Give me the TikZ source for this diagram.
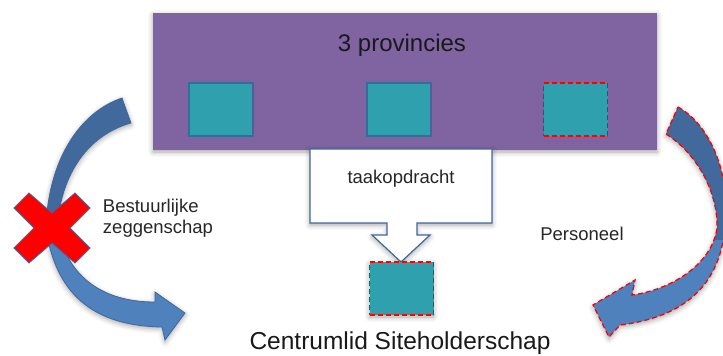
\documentclass[tikz,border=0pt]{standalone}
\usepackage{fontspec}
\setmainfont{Liberation Sans}
\usetikzlibrary{shadows.blur}
\definecolor{provpurple}{HTML}{8064A2}
\definecolor{unitteal}{HTML}{2FA0AE}
\definecolor{edgeblue}{HTML}{41679A}
\definecolor{arrowdark}{HTML}{41699C}
\definecolor{arrowlight}{HTML}{4F81BD}
\tikzset{
  unit/.style={draw=edgeblue,line width=1.3pt,fill=unitteal,minimum width=64pt,minimum height=53pt,inner sep=0pt},
  reddash/.style={draw=red,line width=1.3pt,dash pattern=on 5pt off 3pt},
  softshadow/.style={blur shadow={shadow xshift=0pt,shadow yshift=-2pt,shadow blur radius=5pt,shadow opacity=35}},
  lbl/.style={font=\fontsize{18.5}{21}\selectfont,text=black!85,align=left}
}
\begin{document}
\begin{tikzpicture}[x=1pt,y=-1pt]
            \useasboundingbox (0,0) rectangle (723,356);

            \node[fill=provpurple,minimum width=504pt,minimum height=137pt,inner sep=0pt,softshadow] (prov) at (405,81.5) {};
            \node[font=\fontsize{24}{28}\selectfont,text=black!90] (provtitle) at (402,45) {3 provincies};
            \node[unit] (prov1) at (221,109.5) {};
            \node[unit] (prov2) at (399,109.5) {};
            \node[unit,reddash] (prov3) at (575.5,109.5) {};

            \draw[draw=edgeblue,line width=1.2pt,fill=white,softshadow] (310,149) -- (492,149) -- (492,223) -- (417,223) -- (417,235) -- (430,235) -- (401,262) -- (372,235) -- (387,235) -- (387,223) -- (310,223) -- cycle;
            \node[lbl] (task) at (401,179) {taakopdracht};

            \node[unit,reddash,softshadow] (centrum) at (401.5,288.5) {};
            \node[font=\fontsize{24.5}{28}\selectfont,text=black!90] (centrumtitle) at (400,343) {Centrumlid Siteholderschap};

            \draw[draw=edgeblue,line width=0.8pt,fill=arrowlight,softshadow] (46,228) .. controls (56,300) and (100,326) .. (162,327) -- (165,340) -- (185,313) -- (155,292) -- (155,302) .. controls (112,302) and (70,285) .. (57,228) -- cycle;
            \draw[draw=edgeblue,line width=0.8pt,fill=arrowdark,softshadow] (122,98) -- (131,123) .. controls (95,133) and (62,165) .. (57,228) -- (46,228) .. controls (48,160) and (80,112) .. (122,98) -- cycle;
            \draw[draw=edgeblue,line width=0.8pt,fill=red] (52,228) ++(-38,-20) -- ++(15,-15) -- (52,213) -- ++(23,-20) -- ++(15,15) -- (70,228) -- ++(20,20) -- ++(-15,15) -- (52,243) -- ++(-23,20) -- ++(-15,-15) -- (34,228) -- cycle;
            \node[lbl] (gov) at (158,218) {Bestuurlijke\\zeggenschap};

            \path[fill=arrowlight,softshadow,path picture={\fill[arrowdark] (600,0) rectangle (740,240);}] (678,107) .. controls (705,122) and (725,160) .. (726,205) .. controls (727,270) and (700,315) .. (620,325) -- (609,337) -- (593,305) -- (635,280) -- (632,295) .. controls (670,290) and (712,265) .. (717,228) .. controls (718,190) and (695,152) .. (666,134) -- cycle;
            \draw[reddash] (678,107) .. controls (705,122) and (725,160) .. (726,205) .. controls (727,270) and (700,315) .. (620,325) -- (609,337) -- (593,305) -- (635,280) -- (632,295) .. controls (670,290) and (712,265) .. (717,228) .. controls (718,190) and (695,152) .. (666,134) -- cycle;
            \node[lbl] (staff) at (582,234) {Personeel};

\end{tikzpicture}
\end{document}
